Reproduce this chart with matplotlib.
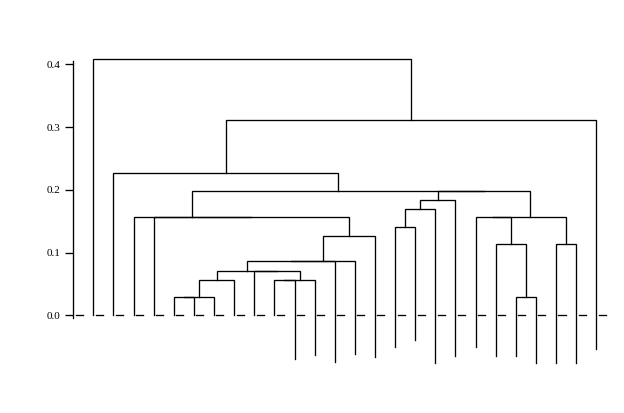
import matplotlib
matplotlib.use('Agg')
import matplotlib.pyplot as plt

# leaves in plotted order: where each leaf line ends (0 = on the baseline)
leaf_ends = [0.0, 0.0, 0.0, 0.0, 0.0, 0.0, 0.0, 0.0, 0.0, 0.0,
             -0.070, -0.063, -0.074, -0.062, -0.066, -0.051, -0.040, -0.076,
             -0.065, -0.051, -0.065, -0.065, -0.076, -0.076, -0.076, -0.053]

# merge table, hclust style: negative = leaf (1-based), positive = earlier merge
merge_left = [-5, 1, -22, -10, 4, 2, -9, 6, 8, 9, 10, -16, -21,
              -24, 12, 15, -4, -3, -20, 19, 16, 18, -2, 23, -1]
merge_right = [-6, -7, -23, -11, -12, -8, 5, 7, -13, -14, -15, -17, 3,
               -25, -18, -19, 11, 17, 13, 14, 20, 21, 22, -26, 24]
merge_height = [0.0287, 0.0287, 0.0287, 0.0563, 0.0563, 0.0563, 0.0706, 0.0706,
                0.086, 0.086, 0.127, 0.140, 0.113, 0.113, 0.169, 0.183,
                0.156, 0.156, 0.156, 0.156, 0.198, 0.198, 0.226, 0.311, 0.408]

yticks = [0.0, 0.1, 0.2, 0.3, 0.4]
ytick_labels = ['0.0', '0.1', '0.2', '0.3', '0.4']

lw = 0.95
fig = plt.figure(figsize=(6.24, 4.13), dpi=100)
ax = fig.add_axes([73.3 / 624, 33 / 413, (610 - 73.3) / 624, 340 / 413])
ax.set_xlim(-0.994, 25.68)
ax.set_ylim(-0.1031, 0.4387)

node_x = {}


def child_pos(c):
    if c < 0:
        return float(-c - 1)
    return node_x[c]


def child_bottom(c):
    if c < 0:
        return leaf_ends[-c - 1]
    return merge_height[c - 1]


for k, (a, b, h) in enumerate(zip(merge_left, merge_right, merge_height), start=1):
    xa, xb = child_pos(a), child_pos(b)
    node_x[k] = (xa + xb) / 2
    ax.plot([xa, xa, xb, xb], [child_bottom(a), h, h, child_bottom(b)],
            color='black', lw=lw, solid_joinstyle='miter')

# dashed baseline, one dash after each leaf position
for i in range(-1, len(leaf_ends)):
    ax.plot([i + 0.12, i + 0.47], [0, 0], color='black', lw=lw)

for s in ['top', 'right', 'bottom']:
    ax.spines[s].set_visible(False)
ax.spines['left'].set_bounds(-0.005, 0.405)
ax.spines['left'].set_linewidth(lw)
ax.set_xticks([])
ax.set_yticks(yticks)
ax.set_yticklabels(ytick_labels, fontfamily='Liberation Serif', fontsize=8)
ax.tick_params(axis='y', length=6, width=lw, pad=3.5)

fig.savefig('out.png', dpi=100)
